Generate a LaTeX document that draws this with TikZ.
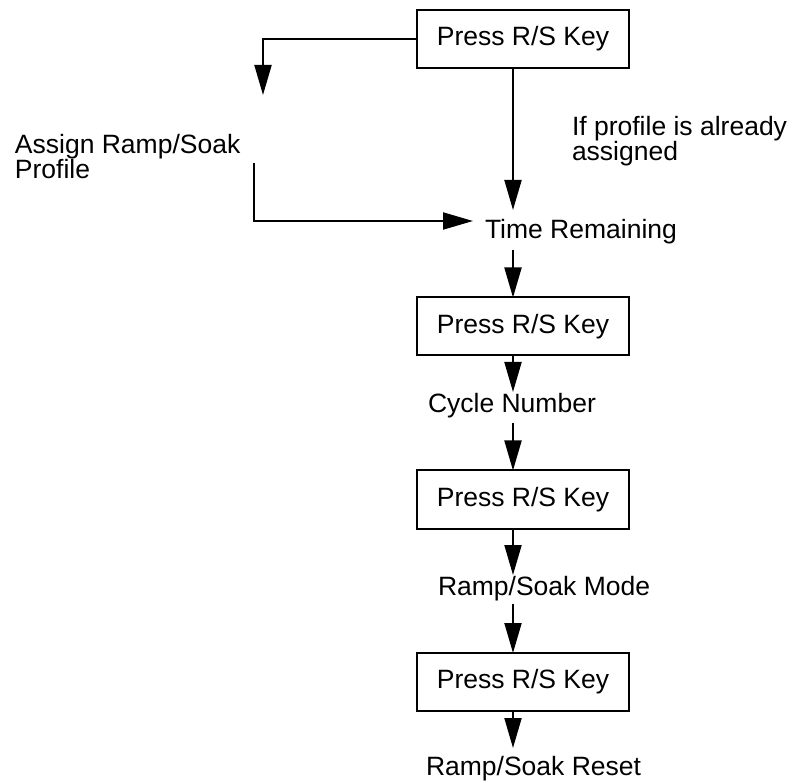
\documentclass[tikz,border=0pt]{standalone}
\usepackage{fontspec}
\setmainfont{Liberation Sans}
\usetikzlibrary{arrows.meta}
\begin{document}
\begin{tikzpicture}[x=1pt,y=-1pt,
  every node/.style={font=\fontsize{26.5}{25}\selectfont, inner sep=0pt, outer sep=0pt},
  keybox/.style={draw, line width=2pt, minimum width=212pt, minimum height=58pt},
  lbl/.style={anchor=base west},
  mlbl/.style={anchor=north west, align=left},
  conn/.style={line width=2pt, -{Triangle[length=30pt,width=17pt]}},
  plain/.style={line width=2pt}]
\useasboundingbox (0,0) rectangle (793,783);
% boxes
\node[keybox] (b1) at (523,39) {Press R/S Key};
\node[keybox] (b2) at (523,326.5) {Press R/S Key};
\node[keybox] (b3) at (523,499.5) {Press R/S Key};
\node[keybox] (b4) at (523,682) {Press R/S Key};
% labels
\node[mlbl] (assign) at (15,134) {Assign Ramp/Soak\\Profile};
\node[mlbl] (ifprof) at (572,116) {If profile is already\\assigned};
\node[lbl] (tr) at (485,239) {Time Remaining};
\node[lbl] (cn) at (428,413) {Cycle Number};
\node[lbl] (rsm) at (438,595) {Ramp/Soak Mode};
\node[lbl] (rsr) at (426,775) {Ramp/Soak Reset};
% spine and free ends
\coordinate (sp) at (513,0);
\coordinate (lt) at (263,95);
\coordinate (ls) at (254,163);
\coordinate (lr) at (473,221);
\coordinate (t1) at (513,210);
\coordinate (s2) at (513,250);
\coordinate (t2) at (513,392);
\coordinate (s3) at (513,423);
\coordinate (t3) at (513,575);
\coordinate (s4) at (513,604);
\coordinate (t4) at (513,748);
% connectors
\draw[conn] (b1.west) -| (lt);
\draw[conn] (ls) |- (lr);
\draw[conn] (b1.south -| sp) -- (t1);
\draw[conn] (s2) -- (b2.north -| sp);
\draw[conn] (b2.south -| sp) -- (t2);
\draw[conn] (s3) -- (b3.north -| sp);
\draw[conn] (b3.south -| sp) -- (t3);
\draw[conn] (s4) -- (b4.north -| sp);
\draw[conn] (b4.south -| sp) -- (t4);
\end{tikzpicture}
\end{document}
